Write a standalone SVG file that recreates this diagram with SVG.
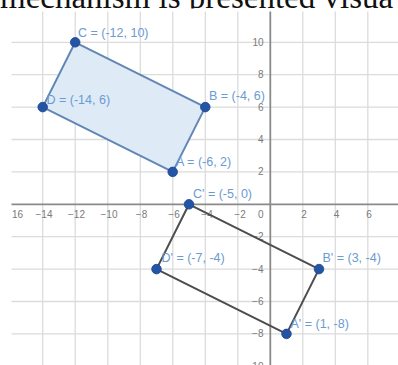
<svg xmlns="http://www.w3.org/2000/svg" width="398" height="365" viewBox="0 0 398 365">
<style>
.grid{stroke:#dcdcdc;stroke-width:1.3;fill:none}
.axis{stroke:#8a8a8a;stroke-width:1.8;fill:none}
.num{font-family:"Liberation Sans",Arial,sans-serif;font-size:10px;fill:#7a7a7a}
.lbl{font-family:"Liberation Sans",Arial,sans-serif;font-size:12.5px;fill:#6a9bd2}
.pt{fill:#2454a4;stroke:#1d4690;stroke-width:0.8}
.poly1{fill:#dfeaf7;stroke:#6287b4;stroke-width:2;stroke-linejoin:round}
.poly2{fill:none;stroke:#4d4d4d;stroke-width:2;stroke-linejoin:round}
</style>
<defs>
<clipPath id="plot"><rect x="11.5" y="11.5" width="387" height="354"/></clipPath>
</defs>
<rect width="398" height="365" fill="#ffffff"/>
<text x="0" y="8" font-family="Liberation Serif,Times New Roman,serif" font-size="33" fill="#111">mechanism is presented visua</text>
<rect x="0" y="8.5" width="398" height="357" fill="#ffffff"/>
<g id="grid" clip-path="url(#plot)">
<path class="grid" d="M10.2 0V365M42.7 0V365M75.2 0V365M107.8 0V365M140.3 0V365M172.8 0V365M205.3 0V365M237.8 0V365M302.8 0V365M335.3 0V365M367.8 0V365M400.4 0V365"/>
<path class="grid" d="M0 9.9H398M0 42.3H398M0 74.7H398M0 107.1H398M0 139.5H398M0 171.9H398M0 236.7H398M0 269.1H398M0 301.5H398M0 333.9H398"/>
<path class="axis" d="M270.3 0V365M0 204.3H398"/>
</g>
<g id="axis-labels" class="num">
<text x="12" y="217.5">16</text>
<text x="44" y="217.5" text-anchor="middle">−14</text>
<text x="76.5" y="217.5" text-anchor="middle">−12</text>
<text x="109" y="217.5" text-anchor="middle">−10</text>
<text x="141.5" y="217.5" text-anchor="middle">−8</text>
<text x="174" y="217.5" text-anchor="middle">−6</text>
<text x="207" y="217.5" text-anchor="middle">−4</text>
<text x="240" y="217.5" text-anchor="middle">−2</text>
<text x="263.5" y="217.5" text-anchor="end">0</text>
<text x="304" y="217.5" text-anchor="middle">2</text>
<text x="336.5" y="217.5" text-anchor="middle">4</text>
<text x="369" y="217.5" text-anchor="middle">6</text>
<text x="263.5" y="45.8" text-anchor="end">10</text>
<text x="263.5" y="78.2" text-anchor="end">8</text>
<text x="263.5" y="110.6" text-anchor="end">6</text>
<text x="263.5" y="143" text-anchor="end">4</text>
<text x="263.5" y="175.4" text-anchor="end">2</text>
<text x="263.5" y="240.2" text-anchor="end">−2</text>
<text x="263.5" y="272.6" text-anchor="end">−4</text>
<text x="263.5" y="305" text-anchor="end">−6</text>
<text x="263.5" y="337.4" text-anchor="end">−8</text>
<text x="263.5" y="369.6" text-anchor="end">−10</text>
</g>
<g id="connectors">
<polygon id="ABCD" class="poly1" points="172.7,171.9 205.3,107.1 75.2,42.3 42.7,107.1"/>
<polygon id="A1B1C1D1" class="poly2" points="286.5,333.9 319,269.1 189,204.3 156.5,269.1"/>
</g>
<g id="A"><circle class="pt" cx="172.7" cy="171.9" r="4.8"/><text class="lbl" x="176" y="166">A = (-6, 2)</text></g>
<g id="B"><circle class="pt" cx="205.3" cy="107.1" r="4.8"/><text class="lbl" x="209" y="100">B = (-4, 6)</text></g>
<g id="C"><circle class="pt" cx="75.2" cy="42.3" r="4.8"/><text class="lbl" x="78" y="36.5">C = (-12, 10)</text></g>
<g id="D"><circle class="pt" cx="42.7" cy="107.1" r="4.8"/><text class="lbl" x="46.5" y="103.5">D = (-14, 6)</text></g>
<g id="A1"><circle class="pt" cx="286.5" cy="333.9" r="4.8"/><text class="lbl" x="290.5" y="327.5">A' = (1, -8)</text></g>
<g id="B1"><circle class="pt" cx="319" cy="269.1" r="4.8"/><text class="lbl" x="322.5" y="261.5">B' = (3, -4)</text></g>
<g id="C1"><circle class="pt" cx="189" cy="204.3" r="4.8"/><text class="lbl" x="193" y="197.5">C' = (-5, 0)</text></g>
<g id="D1"><circle class="pt" cx="156.5" cy="269.1" r="4.8"/><text class="lbl" x="161.5" y="261.5">D' = (-7, -4)</text></g>
</svg>
